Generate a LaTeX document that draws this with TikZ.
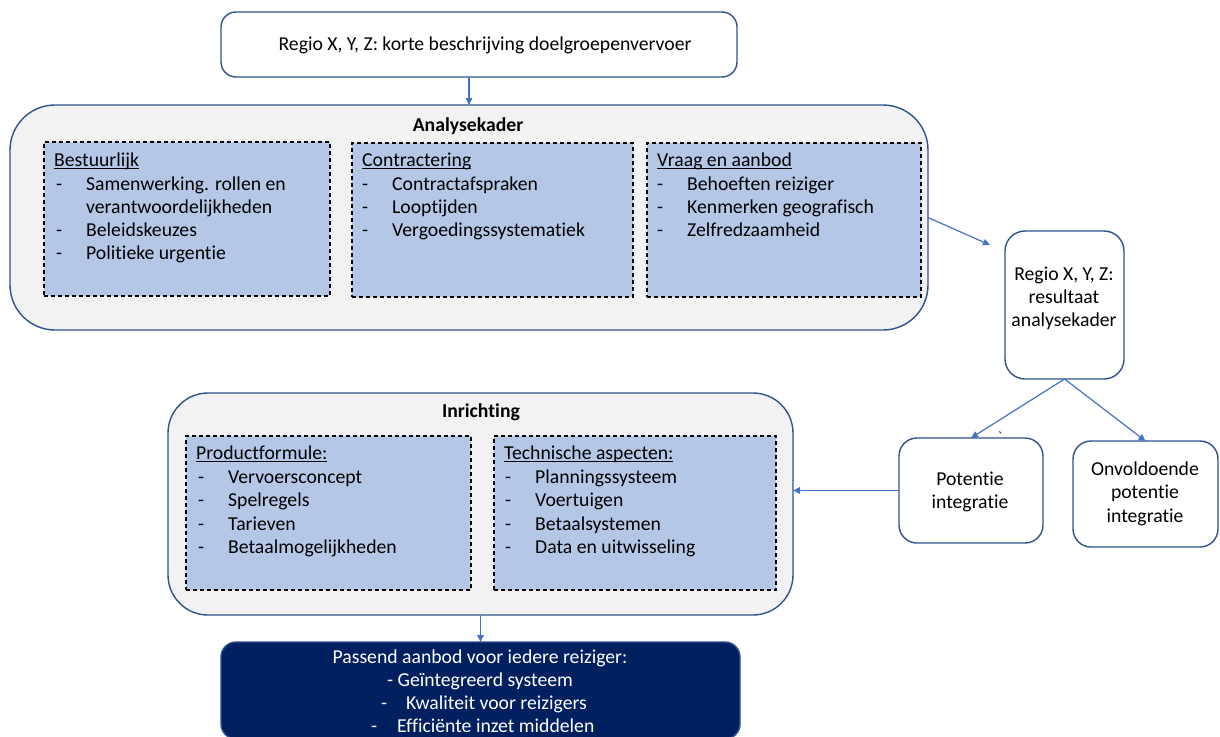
\documentclass[tikz,border=0pt]{standalone}
\usepackage{fontspec}
\setmainfont{Carlito}[Ligatures={TeX,NoCommon}]
\newfontfamily\rawfont{Carlito}
\usetikzlibrary{arrows.meta}
\definecolor{bordc}{HTML}{2F528F}
\definecolor{arrc}{HTML}{4472C4}
\definecolor{outerc}{HTML}{F2F2F2}
\definecolor{innerc}{HTML}{B4C7E7}
\definecolor{navyc}{HTML}{002060}
\newcommand\myul[1]{\setbox0\hbox{#1}\rlap{\rule[-3.2pt]{\wd0}{1.1pt}}\box0}
\newcommand\dashitem[1]{\makebox[30pt][l]{-}#1}
\begin{document}
\begin{tikzpicture}[x=1pt,y=-1pt,
 every node/.style={font=\fontsize{19.7}{23.3}\selectfont},
 boxbase/.style={rectangle,inner sep=0pt,outer sep=0pt,anchor=north west,line width=1.4pt},
 whitebox/.style={boxbase,draw=bordc,fill=white},
 outerbox/.style={boxbase,draw=bordc,fill=outerc},
 innerbox/.style={boxbase,draw=black,fill=innerc,line width=1.4pt,dash pattern=on 4pt off 3pt},
 navybox/.style={boxbase,draw=bordc,fill=navyc},
 txt/.style={inner sep=0pt,anchor=base west},
 ctxt/.style={inner sep=0pt,anchor=base},
 title/.style={ctxt,font=\fontsize{19.7}{23.3}\selectfont\bfseries},
 wtxt/.style={text=white},
 conn/.style={draw=arrc,line width=1.2pt,-{Triangle[length=7pt,width=6.5pt]}},
]
\useasboundingbox (0,0) rectangle (1220,736);

% top box
\node[whitebox,rounded corners=15pt,minimum width=516pt,minimum height=65pt] (top) at (221,12) {};
\node[ctxt] (toptxt) at (485,50) {Regio X, Y, Z: korte beschrijving doelgroepenvervoer};

% Analysekader
\node[outerbox,rounded corners=45pt,minimum width=918pt,minimum height=225pt] (ana) at (10,105) {};
\node[title] (anat) at (468,131) {Analysekader};
\node[innerbox,minimum width=286pt,minimum height=154pt] (best) at (44,142) {};
\node[innerbox,minimum width=281pt,minimum height=154pt] (contr) at (352,143) {};
\node[innerbox,minimum width=274pt,minimum height=154pt] (vraag) at (647,143) {};

\node[txt] (b0) at (54,166) {\myul{Bestuurlijk}};
\node[txt] (b1) at (56,190) {\dashitem{Samenwerking. rollen en}};
\node[txt] (b2) at (86,213) {verantwoordelijkheden};
\node[txt] (b3) at (56,236) {\dashitem{Beleidskeuzes}};
\node[txt] (b4) at (56,259) {\dashitem{Politieke urgentie}};

\node[txt] (c0) at (362,166) {\myul{Contractering}};
\node[txt] (c1) at (362,190) {\dashitem{Contractafspraken}};
\node[txt] (c2) at (362,213) {\dashitem{Looptijden}};
\node[txt] (c3) at (362,236) {\dashitem{Vergoedingssystematiek}};

\node[txt] (v0) at (657,166) {\myul{Vraag en aanbod}};
\node[txt] (v1) at (657,190) {\dashitem{Behoeften reiziger}};
\node[txt] (v2) at (657,213) {\dashitem{Kenmerken geografisch}};
\node[txt] (v3) at (657,236) {\dashitem{Zelfredzaamheid}};

% result box
\node[whitebox,rounded corners=20pt,minimum width=119pt,minimum height=148pt] (res) at (1005,231) {};
\node[ctxt] (r1) at (1064,280) {Regio X, Y, Z:};
\node[ctxt] (r2) at (1064,303.3) {resultaat};
\node[ctxt] (r3) at (1064,326.6) {analysekader};
\coordinate (resin) at (990,245);

% Potentie
\node[whitebox,rounded corners=18pt,minimum width=144pt,minimum height=105pt] (pot) at (899,438) {};
\node[ctxt] (p1) at (970,485) {Potentie};
\node[ctxt] (p2) at (970,508) {integratie};
\node[inner sep=0pt,anchor=base,font=\fontsize{14}{16}\rawfont] (tick) at (1000,441) {`};

% Onvoldoende
\node[whitebox,rounded corners=18pt,minimum width=145pt,minimum height=106pt] (onv) at (1073,441) {};
\node[ctxt] (o1) at (1145,475) {Onvoldoende};
\node[ctxt] (o2) at (1145,498.5) {potentie};
\node[ctxt] (o3) at (1145,522) {integratie};

% Inrichting
\node[outerbox,rounded corners=40pt,minimum width=625pt,minimum height=222pt] (inr) at (168,393) {};
\node[title] (inrt) at (481,417) {Inrichting};
\node[innerbox,minimum width=285pt,minimum height=154pt] (prod) at (186,436) {};
\node[innerbox,minimum width=282pt,minimum height=154pt] (tech) at (494,436) {};

\node[txt] (f0) at (196,459) {\myul{Productformule:}};
\node[txt] (f1) at (198,483) {\dashitem{Vervoersconcept}};
\node[txt] (f2) at (198,506.5) {\dashitem{Spelregels}};
\node[txt] (f3) at (198,530) {\dashitem{Tarieven}};
\node[txt] (f4) at (198,553.5) {\dashitem{Betaalmogelijkheden}};

\node[txt] (t0) at (504,459) {\myul{Technische aspecten:}};
\node[txt] (t1) at (505,483) {\dashitem{Planningssysteem}};
\node[txt] (t2) at (505,506.5) {\dashitem{Voertuigen}};
\node[txt] (t3) at (505,530) {\dashitem{Betaalsystemen}};
\node[txt] (t4) at (505,553.5) {\dashitem{Data en uitwisseling}};

% Passend aanbod
\node[navybox,rounded corners=15pt,minimum width=519pt,minimum height=97pt] (pas) at (221,642) {};
\node[ctxt,wtxt] (q1) at (480,663) {Passend aanbod voor iedere reiziger:};
\node[ctxt,wtxt] (q2) at (480,686) {- Geïntegreerd systeem};
\node[txt,wtxt] (q3d) at (381,709) {-};
\node[txt,wtxt] (q3) at (406,709) {Kwaliteit voor reizigers};
\node[txt,wtxt] (q4d) at (371,732) {-};
\node[txt,wtxt] (q4) at (397,732) {Efficiënte inzet middelen};

% connectors
\draw[conn] ([xshift=-10pt]top.south) -- (ana.north);
\draw[conn] (ana.east) -- (resin);
\draw[conn] (res.south) -- (pot.north);
\draw[conn] (res.south) -- (onv.north);
\draw[conn] (pot.west) -- (pot.west -| inr.east);
\draw[conn] (inr.south) -- (pas.north);
\end{tikzpicture}
\end{document}
